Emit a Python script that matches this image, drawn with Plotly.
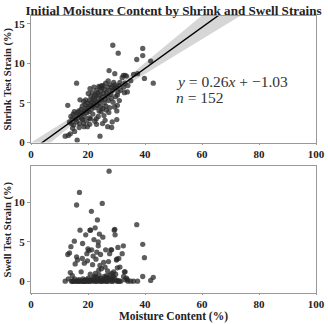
import numpy as np
import plotly.graph_objects as go
from plotly.subplots import make_subplots

# Moisture content (%) for each sample
moisture = [
    28.7, 30.6, 39.2, 39.2, 37.1, 42.0, 37.4, 27.4, 29.4, 39.8, 42.9, 12.9, 16.0, 33.0, 32.4, 33.8, 30.5,
    30.3, 30.1, 30.1, 26.9, 28.3, 24.2, 16.2, 12.0, 13.1, 18.6, 19.8, 18.1, 20.5, 20.9, 23.6, 26.0, 23.0,
    13.5, 14.0, 14.2, 14.5, 14.8, 15.0, 15.2, 15.5, 15.8, 16.0,
    16.3, 16.5, 16.8, 17.0, 17.2, 17.3, 17.6, 17.8, 18.0, 18.2,
    18.5, 18.7, 18.9, 19.0, 19.2, 19.4, 19.6, 19.8, 20.0, 20.1,
    20.3, 20.5, 20.7, 20.8, 21.0, 21.2, 21.3, 21.5, 21.6, 21.8,
    22.0, 22.1, 22.3, 22.5, 22.6, 22.8, 23.0, 23.1, 23.3, 23.5,
    23.6, 23.8, 24.0, 24.1, 24.2, 24.4, 24.5, 24.7, 24.9, 25.0,
    25.2, 25.3, 25.5, 25.7, 25.8, 26.0, 26.2, 26.3, 26.5, 26.7,
    26.9, 27.1, 27.2, 27.4, 27.6, 27.8, 28.0, 28.2, 28.4, 28.6,
    28.8, 29.0, 29.2, 29.5, 29.7, 30.0, 30.3, 30.8, 31.2, 31.5,
    32.0, 32.5, 33.0, 33.5, 34.0, 35.0, 36.0,
    19.5, 21.7, 22.9, 24.6, 25.6, 27.3, 28.5, 22.4, 25.1, 16.9,
    14.6, 15.3, 13.8, 26.4, 23.9, 20.6, 29.3, 31.0, 32.8, 18.4,
    24.8,
]

shrink_strain = [
    12.3, 11.3, 11.9, 11.0, 10.5, 10.3, 8.7, 9.1, 8.7, 8.1, 7.5, 4.7, 7.5, 8.5, 8.5, 6.4, 6.4,
    4.7, 4.0, 2.9, 2.0, 1.9, 0.8, 0.3, 0.8, 0.9, 2.0, 2.0, 2.9, 3.1, 3.0, 3.3, 2.8, 2.3,
    2.6, 3.3, 2.4, 3.0, 3.6, 2.2, 3.9, 2.9, 3.4, 2.6,
    3.8, 3.1, 4.0, 2.4, 5.4, 3.5, 4.2, 3.0, 4.6, 3.7,
    5.2, 4.0, 3.3, 4.8, 5.4, 4.3, 3.8, 5.0, 4.5, 6.2,
    3.9, 5.3, 6.8, 4.7, 5.8, 4.2, 5.1, 6.3, 4.6, 5.6,
    4.9, 7.0, 5.4, 6.1, 4.4, 5.9, 6.6, 5.1, 4.7, 6.3,
    5.6, 7.1, 5.0, 6.0, 7.0, 4.5, 6.5, 5.4, 6.9, 5.8,
    4.3, 7.2, 6.2, 5.0, 6.7, 5.5, 7.5, 4.6, 6.3, 5.9,
    7.0, 7.8, 5.3, 6.6, 4.4, 7.3, 6.1, 5.6, 7.0, 6.6,
    5.1, 7.6, 6.9, 7.3, 5.8, 7.0, 6.0, 7.2, 7.6, 6.6,
    8.2, 7.0, 7.5, 8.4, 7.2, 7.8, 8.6,
    2.7, 3.6, 3.0, 3.9, 3.4, 3.8, 2.6, 2.7, 2.4, 1.9,
    1.8, 1.4, 1.1, 4.1, 4.0, 2.3, 4.5, 5.3, 6.3, 2.4,
    7.2,
]

swell_strain = [
    0.3, 0.0, 4.7, 0.6, 7.2, 0.1, 0.0, 14.0, 6.6, 3.0, 0.5, 3.4, 9.7, 1.2, 4.5, 0.2, 4.3,
    1.7, 2.8, 0.0, 0.5, 4.0, 0.2, 0.0, 0.0, 0.3, 0.0, 2.6, 4.8, 0.1, 6.5, 4.5, 0.4, 0.0,
    3.6, 4.4, 0.0, 0.7, 0.0, 0.0, 5.1, 2.2, 0.0, 3.1,
    2.7, 0.0, 0.2, 11.3, 6.5, 0.0, 1.2, 0.0, 2.9, 0.3,
    0.0, 2.3, 0.1, 0.0, 5.9, 0.2, 3.5, 0.0, 4.1, 0.4,
    3.9, 0.0, 6.5, 0.9, 0.2, 8.9, 4.0, 0.0, 2.1, 3.2,
    0.5, 5.3, 0.0, 6.8, 1.0, 2.8, 0.0, 3.7, 7.8, 0.3,
    5.0, 1.4, 6.0, 0.0, 2.0, 3.4, 0.4, 1.6, 0.0, 9.9,
    5.6, 0.1, 2.4, 0.6, 0.0, 1.8, 4.0, 0.3, 0.7, 0.0,
    1.3, 0.4, 2.5, 0.0, 3.5, 0.8, 4.0, 0.2, 1.0, 0.0,
    0.6, 1.2, 6.5, 5.9, 0.9, 2.7, 0.1, 2.9, 1.8, 0.0,
    3.5, 0.6, 0.2, 0.4, 0.0, 0.0, 0.0,
    0.0, 0.1, 0.5, 0.0, 0.2, 0.3, 0.0, 0.6, 0.1, 0.0,
    0.0, 0.3, 1.1, 0.0, 0.8, 0.0, 0.4, 0.0, 1.2, 0.0,
    0.1,
]

slope = 0.26
intercept = -1.03
n_samples = len(moisture)

x_ticks = [0, 20, 40, 60, 80, 100]
shrink_ticks = [0, 5, 10, 15]
swell_ticks = [0, 5, 10]

# Regression line and 95% confidence band
xa = np.array(moisture)
ya = np.array(shrink_strain)
resid = ya - (slope * xa + intercept)
s = np.sqrt(np.sum(resid ** 2) / (len(xa) - 2))
xbar = xa.mean()
sxx = np.sum((xa - xbar) ** 2)
xl = np.linspace(0, 100, 201)
yl = slope * xl + intercept
half = 1.97 * s * np.sqrt(1 / len(xa) + (xl - xbar) ** 2 / sxx)

serif = "Liberation Serif"
tick_font = dict(family=serif, size=11, color="#222", weight="bold")
ytitle_font = dict(family=serif, size=10.5, color="#222", weight="bold")

fig = make_subplots(rows=2, cols=1, vertical_spacing=0.0866)

fig.add_trace(go.Scatter(x=np.concatenate([xl, xl[::-1]]), y=np.concatenate([yl + half, (yl - half)[::-1]]),
                         fill="toself", fillcolor="rgba(200,200,200,0.75)", line=dict(width=0),
                         mode="lines", hoverinfo="skip", showlegend=False), row=1, col=1)
fig.add_trace(go.Scatter(x=moisture, y=shrink_strain, mode="markers",
                         marker=dict(size=5.3, color="rgba(40,40,40,0.75)", line=dict(width=0)),
                         showlegend=False), row=1, col=1)
fig.add_trace(go.Scatter(x=xl, y=yl, mode="lines", line=dict(color="black", width=1.4),
                         showlegend=False), row=1, col=1)
fig.add_trace(go.Scatter(x=moisture, y=swell_strain, mode="markers",
                         marker=dict(size=5.3, color="rgba(40,40,40,0.75)", line=dict(width=0)),
                         showlegend=False), row=2, col=1)

axis_common = dict(showgrid=False, zeroline=False, showline=True, mirror=True, linecolor="#999",
                   linewidth=1, tickfont=tick_font, automargin=False)
fig.update_xaxes(range=[0, 100], tickvals=x_ticks, ticks="outside", ticklen=1, tickcolor="#999", **axis_common)
fig.update_yaxes(ticks="outside", ticklen=3, tickwidth=1, tickcolor="#999", **axis_common)
fig.update_yaxes(range=[0, 16], tickvals=shrink_ticks, row=1, col=1,
                 title=dict(text="Shrink Test Strain (%)", font=ytitle_font, standoff=0))
fig.update_yaxes(range=[-1.5, 14.6], tickvals=swell_ticks, row=2, col=1,
                 title=dict(text="Swell Test Strain (%)", font=ytitle_font, standoff=0))
fig.update_xaxes(row=2, col=1,
                 title=dict(text="Moisture Content (%)", font=dict(family=serif, size=11.5, color="#222", weight="bold"), standoff=1))

sign = "+" if intercept >= 0 else "+ \u2212"
fig.add_annotation(x=50, y=7.75, xref="x", yref="y", xanchor="left", yanchor="middle", showarrow=False,
                   text=f"<i>y</i> = {slope:.2f}<i>x</i> {sign}{abs(intercept):.2f}",
                   font=dict(family=serif, size=15.5, color="#333"))
fig.add_annotation(x=50, y=5.7, xref="x", yref="y", xanchor="left", yanchor="middle", showarrow=False,
                   text=f"<i>n</i> = {n_samples}",
                   font=dict(family=serif, size=15.5, color="#333"))

fig.update_layout(
    width=328, height=324,
    margin=dict(l=31, r=12, t=16, b=31, autoexpand=False),
    paper_bgcolor="white", plot_bgcolor="white",
    title=dict(text="Initial Moisture Content by Shrink and Swell Strains", x=0.5, xref="paper", xanchor="center",
               y=0.968, yanchor="middle", font=dict(family=serif, size=13.1, color="#222", weight="bold")),
)

fig.write_html("out.html")
